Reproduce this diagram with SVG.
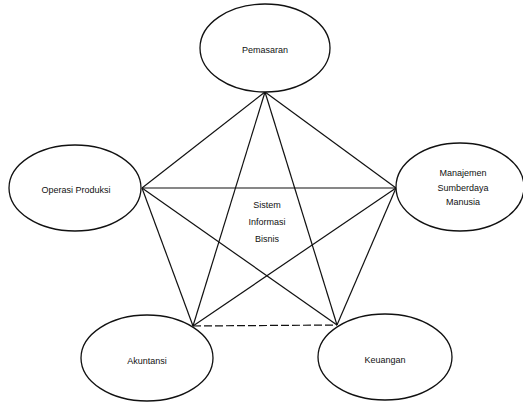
<svg xmlns="http://www.w3.org/2000/svg" width="523" height="404" viewBox="0 0 523 404">
<style>
.n ellipse{fill:#fff;stroke:#111;stroke-width:1.3}
.c line{stroke:#111;stroke-width:1.2}
text{font-family:"Liberation Sans",Arial,sans-serif;font-size:9px;fill:#111;text-anchor:middle}
</style>
<rect width="523" height="404" fill="#fff"/>
<g id="connectors" class="c">
<line x1="265" y1="92" x2="142" y2="188"/>
<line x1="265" y1="92" x2="396" y2="188"/>
<line x1="265" y1="92" x2="193" y2="326"/>
<line x1="265" y1="92" x2="337" y2="325"/>
<line x1="142" y1="188" x2="396" y2="188" stroke-width="1.5"/>
<line x1="142" y1="188" x2="193" y2="326"/>
<line x1="142" y1="188" x2="337" y2="325"/>
<line x1="396" y1="188" x2="193" y2="326"/>
<line x1="396" y1="188" x2="337" y2="325"/>
<line x1="193" y1="326" x2="337" y2="325" stroke-dasharray="8,3"/>
</g>
<g id="pemasaran" class="n"><ellipse cx="265" cy="48" rx="65" ry="44"/><text x="265" y="53">Pemasaran</text></g>
<g id="operasi" class="n"><ellipse cx="75" cy="188" rx="66" ry="43"/><text x="76" y="193">Operasi Produksi</text></g>
<g id="sdm" class="n"><ellipse cx="460" cy="187" rx="64" ry="44"/><text x="463" y="176">Manajemen</text><text x="463" y="191">Sumberdaya</text><text x="463" y="205">Manusia</text></g>
<g id="akuntansi" class="n"><ellipse cx="147" cy="358" rx="66" ry="43"/><text x="147" y="364">Akuntansi</text></g>
<g id="keuangan" class="n"><ellipse cx="385" cy="357" rx="67" ry="43"/><text x="385" y="363">Keuangan</text></g>
<g id="center"><text x="267" y="208">Sistem</text><text x="267" y="225">Informasi</text><text x="267" y="242">Bisnis</text></g>
</svg>
